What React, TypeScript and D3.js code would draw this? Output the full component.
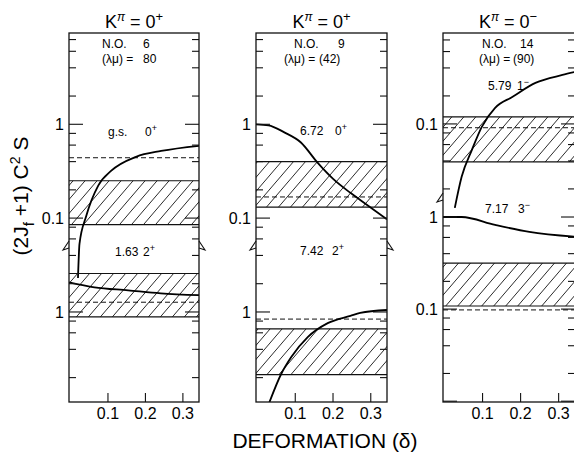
import React from "react";
import * as d3 from "d3";

// x axis
const xTicks = [0.1, 0.2, 0.3];

// panel 1  (K=0+, N.O. 6)  g.s. 0+  (upper)
const gs0Delta = [0.02, 0.024, 0.042, 0.074, 0.109, 0.175, 0.242, 0.343];
const gs0Value = [0.023, 0.053, 0.105, 0.222, 0.32, 0.45, 0.52, 0.59];
const gs0Band = [0.085, 0.25];
const gs0Dash = 0.44;

// panel 1  1.63 2+  (lower)
const e163Delta = [-0.004, 0.064, 0.154, 0.241, 0.343];
const e163Value = [2.07, 1.83, 1.7, 1.58, 1.51];
const e163Band = [0.886, 2.57];
const e163Dash = 1.27;

// panel 2  (K=0+, N.O. 9)  6.72 0+  (upper)
const e672Delta = [-0.004, 0.029, 0.071, 0.115, 0.159, 0.201, 0.246, 0.272, 0.343];
const e672Value = [1.0, 0.975, 0.82, 0.64, 0.39, 0.26, 0.186, 0.156, 0.097];
const e672Band = [0.131, 0.4];
const e672Dash = 0.168;

// panel 2  7.42 2+  (lower)
const e742Delta = [0.031, 0.063, 0.089, 0.133, 0.186, 0.246, 0.272, 0.343];
const e742Value = [0.108, 0.22, 0.33, 0.54, 0.76, 0.91, 0.98, 1.05];
const e742Band = [0.215, 0.66];
const e742Dash = 0.84;

// panel 3  (K=0-, N.O. 14)  5.79 1-  (upper)
const e579Delta = [0.027, 0.045, 0.072, 0.098, 0.133, 0.178, 0.239, 0.31, 0.343];
const e579Value = [0.0125, 0.027, 0.0526, 0.093, 0.149, 0.195, 0.276, 0.336, 0.362];
const e579Band = [0.039, 0.119];
const e579Dash = 0.091;

// panel 3  7.17 3-  (lower)
const e717Delta = [-0.004, 0.045, 0.133, 0.223, 0.343];
const e717Value = [1.0, 1.0, 0.82, 0.69, 0.61];
const e717Band = [0.108, 0.316];
const e717Dash = 0.098;

const titleParity = ["+", "+", "−"];
const orbitNo = ["6", "9", "14"];
const lambdaMu = ["80", "(42)", "(90)"];
const upperLevel = [["g.s.", "0", "+"], ["6.72", "0", "+"], ["5.79", "1", "−"]];
const lowerLevel = [["1.63", "2", "+"], ["7.42", "2", "+"], ["7.17", "3", "−"]];

const FONT = "'Liberation Sans', Arial, sans-serif";

const App = () => {
  const ref = React.useRef<SVGSVGElement>(null);

  React.useEffect(() => {
    const width = 574;
    const height = 456;
    const top = 33;
    const bottom = 402;

    const svg = d3.select(ref.current);
    svg.selectAll("*").remove();
    svg.attr("width", width).attr("height", height).style("font-family", FONT);

    // hatch pattern
    const hw = 12, hh = 14;
    const defs = svg.append("defs");
    defs.append("pattern")
      .attr("id", "hatch")
      .attr("patternUnits", "userSpaceOnUse")
      .attr("width", hw).attr("height", hh)
      .append("path")
      .attr("d", `M${-hw},${2 * hh}L${2 * hw},${-hh}M${-hw},${hh}L${hw},${-hh}M0,${2 * hh}L${2 * hw},0`)
      .attr("stroke", "#111").attr("stroke-width", 0.9).attr("fill", "none");

    const panels = [
      {x0: 69, x1: 199, brk: 248, upDom: [0.048, 9.4], loDom: [0.11, 4.8], upLab: [1, 0.1], loLab: [1],
        up: [gs0Delta, gs0Value, gs0Band, gs0Dash], lo: [e163Delta, e163Value, e163Band, e163Dash],
        no: [33, 74], lm: [33, 74], upTxt: [136, 39, 76], loTxt: [256, 46, 74]},
      {x0: 256, x1: 387, brk: 248, upDom: [0.048, 9.4], loDom: [0.11, 4.8], upLab: [1, 0.1], loLab: [1],
        up: [e672Delta, e672Value, e672Band, e672Dash], lo: [e742Delta, e742Value, e742Band, e742Dash],
        no: [38, 82], lm: [28, 63], upTxt: [135, 44, 79], loTxt: [255, 44, 76]},
      {x0: 443, x1: 575, brk: 200, upDom: [0.0152, 0.95], loDom: [0.0098, 1.53], upLab: [0.1], loLab: [1, 0.1],
        up: [e579Delta, e579Value, e579Band, e579Dash], lo: [e717Delta, e717Value, e717Band, e717Dash],
        no: [39, 77], lm: [36, 70], upTxt: [90, 45, 74], loTxt: [213, 42, 75]},
    ];

    const logTicks = (dom: number[]) => {
      const out: number[] = [];
      for (let e = Math.floor(Math.log10(dom[0])); e <= Math.ceil(Math.log10(dom[1])); e++)
        for (const m of [1, 2, 4, 6, 8]) {
          const v = m * Math.pow(10, e);
          if (v >= dom[0] && v <= dom[1]) out.push(v);
        }
      return out;
    };

    panels.forEach((p, i) => {
      const g = svg.append("g");
      const x = d3.scaleLinear().domain([-0.004, 0.343]).range([p.x0, p.x1]);
      const yUp = d3.scaleLog().domain(p.upDom).range([p.brk, top]);
      const yLo = d3.scaleLog().domain(p.loDom).range([bottom, p.brk]);

      const clipId = `clip${i}`;
      defs.append("clipPath").attr("id", clipId)
        .append("rect").attr("x", p.x0).attr("y", top).attr("width", p.x1 - p.x0).attr("height", bottom - top);
      const plot = g.append("g").attr("clip-path", `url(#${clipId})`);

      const drawSub = (y: any, [delta, value, band, dash]: any) => {
        plot.append("rect")
          .attr("x", p.x0).attr("width", p.x1 - p.x0)
          .attr("y", y(band[1])).attr("height", y(band[0]) - y(band[1]))
          .attr("fill", "url(#hatch)");
        band.forEach((v: number) => plot.append("line")
          .attr("x1", p.x0).attr("x2", p.x1).attr("y1", y(v)).attr("y2", y(v))
          .attr("stroke", "#111").attr("stroke-width", 1.2));
        plot.append("line")
          .attr("x1", p.x0).attr("x2", p.x1).attr("y1", y(dash)).attr("y2", y(dash))
          .attr("stroke", "#111").attr("stroke-width", 1).attr("stroke-dasharray", "5,3");
        plot.append("path")
          .datum(d3.zip(delta, value))
          .attr("fill", "none").attr("stroke", "#000").attr("stroke-width", 1.8)
          .attr("d", d3.line<any>().x(d => x(d[0])).y(d => y(d[1])).curve(d3.curveMonotoneX));
      };
      drawSub(yUp, p.up);
      drawSub(yLo, p.lo);

      // y ticks on both sides
      const yTicks = (y: any, dom: number[]) => {
        logTicks(dom).forEach(v => {
          const yy = y(v);
          if (Math.abs(yy - p.brk) < 4 || yy < top + 3) return;
          const len = Math.abs(Math.log10(v) - Math.round(Math.log10(v))) < 1e-9 ? 14 : 7;
          g.append("line").attr("x1", p.x0).attr("x2", p.x0 + len).attr("y1", yy).attr("y2", yy)
            .attr("stroke", "#111").attr("stroke-width", 1.1);
          g.append("line").attr("x1", p.x1).attr("x2", p.x1 - len).attr("y1", yy).attr("y2", yy)
            .attr("stroke", "#111").attr("stroke-width", 1.1);
        });
      };
      yTicks(yUp, p.upDom);
      yTicks(yLo, p.loDom);

      const yLabel = (y: any, vals: number[]) => vals.forEach(v => g.append("text")
        .attr("x", p.x0 - 5).attr("y", y(v)).attr("dy", "0.35em")
        .attr("text-anchor", "end").attr("font-size", 16).text(v === 1 ? "1" : "0.1"));
      yLabel(yUp, p.upLab);
      yLabel(yLo, p.loLab);

      // x ticks
      xTicks.forEach(t => {
        g.append("line").attr("x1", x(t)).attr("x2", x(t)).attr("y1", bottom).attr("y2", bottom - 9)
          .attr("stroke", "#111").attr("stroke-width", 1.1);
        g.append("text").attr("x", x(t)).attr("y", 419).attr("text-anchor", "middle")
          .attr("font-size", 16).text(String(t));
      });

      // frame
      g.append("rect").attr("x", p.x0).attr("y", top).attr("width", p.x1 - p.x0).attr("height", bottom - top)
        .attr("fill", "none").attr("stroke", "#111").attr("stroke-width", 1.3);

      // axis break marks
      const b = p.brk;
      g.append("path").attr("d", `M${p.x0},${b - 7}L${p.x0 - 6},${b + 2}L${p.x0},${b}`)
        .attr("fill", "none").attr("stroke", "#111").attr("stroke-width", 1.1);
      g.append("path").attr("d", `M${p.x1},${b - 7}L${p.x1 + 6},${b + 2}L${p.x1},${b}`)
        .attr("fill", "none").attr("stroke", "#111").attr("stroke-width", 1.1);

      // title
      const title = g.append("text").attr("x", (p.x0 + Math.min(p.x1, 573)) / 2).attr("y", 28)
        .attr("text-anchor", "middle").attr("font-size", 18);
      title.append("tspan").text("K");
      title.append("tspan").attr("dy", -7).attr("font-size", 12).attr("font-style", "italic").text("π");
      title.append("tspan").attr("dy", 7).text(" = 0");
      title.append("tspan").attr("dy", -7).attr("font-size", 13).text(titleParity[i]);

      // N.O. and (λμ)
      g.append("text").attr("x", p.x0 + p.no[0]).attr("y", 48).attr("font-size", 12).text("N.O.");
      g.append("text").attr("x", p.x0 + p.no[1]).attr("y", 48).attr("font-size", 12).text(orbitNo[i]);
      g.append("text").attr("x", p.x0 + p.lm[0]).attr("y", 63).attr("font-size", 12).text("(λμ) =");
      g.append("text").attr("x", p.x0 + p.lm[1]).attr("y", 63)
        .attr("font-size", 12).text(lambdaMu[i]);

      // level labels
      const level = (pos: number[], lab: string[]) => {
        g.append("text").attr("x", p.x0 + pos[1]).attr("y", pos[0]).attr("font-size", 12).text(lab[0]);
        const t = g.append("text").attr("x", p.x0 + pos[2]).attr("y", pos[0]).attr("font-size", 12);
        t.append("tspan").text(lab[1]);
        t.append("tspan").attr("dy", -5).attr("font-size", 9).text(lab[2]);
      };
      level(p.upTxt, upperLevel[i]);
      level(p.loTxt, lowerLevel[i]);
    });

    // axis titles
    svg.append("text").attr("x", 325).attr("y", 448).attr("text-anchor", "middle")
      .attr("font-size", 21).text("DEFORMATION (δ)");

    const yt = svg.append("text").attr("transform", "translate(28,196) rotate(-90)")
      .attr("text-anchor", "middle").attr("font-size", 21);
    yt.append("tspan").text("(2J");
    yt.append("tspan").attr("dy", 6).attr("font-size", 15).text("f");
    yt.append("tspan").attr("dy", -6).text(" +1) C");
    yt.append("tspan").attr("dy", -8).attr("font-size", 14).text("2");
    yt.append("tspan").attr("dy", 8).text(" S");
  }, []);

  return (
    <svg
      ref={ref}
      style={{position: "absolute", left: 0, top: 0, background: "#fff"}}
    />
  );
};

export default App;
